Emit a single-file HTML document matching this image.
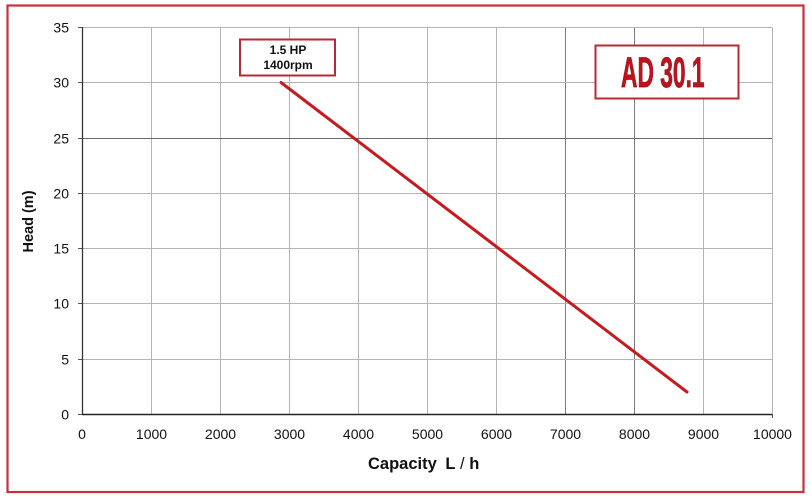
<!DOCTYPE html>
<html><head><meta charset="utf-8"><style>
html,body{margin:0;padding:0;background:#fff;}
svg{display:block;}
text{font-family:"Liberation Sans",Arial,sans-serif;}
</style></head><body>
<svg width="811" height="500" viewBox="0 0 811 500" xmlns="http://www.w3.org/2000/svg">
<rect x="0" y="0" width="811" height="500" fill="#fff"/>
<!-- outer frame -->
<rect x="7.5" y="5.5" width="796" height="486.5" fill="none" stroke="#c8303a" stroke-width="2.2"/>
<!-- grid verticals -->
<g stroke="#b4b4b4" stroke-width="1">
<line x1="151.5" y1="27.5" x2="151.5" y2="414"/>
<line x1="220.5" y1="27.5" x2="220.5" y2="414"/>
<line x1="289.5" y1="27.5" x2="289.5" y2="414"/>
<line x1="358.5" y1="27.5" x2="358.5" y2="414"/>
<line x1="427.5" y1="27.5" x2="427.5" y2="414"/>
<line x1="496.5" y1="27.5" x2="496.5" y2="414"/>
<line x1="703.5" y1="27.5" x2="703.5" y2="414"/>
<line x1="772.5" y1="27.5" x2="772.5" y2="414"/>
</g>
<g stroke="#7a7a7a" stroke-width="1">
<line x1="565.5" y1="27.5" x2="565.5" y2="414"/>
<line x1="634.5" y1="27.5" x2="634.5" y2="414"/>
</g>
<!-- grid horizontals -->
<g stroke="#b4b4b4" stroke-width="1">
<line x1="82" y1="27.5" x2="772" y2="27.5"/>
<line x1="82" y1="82.5" x2="772" y2="82.5"/>
<line x1="82" y1="193.5" x2="772" y2="193.5"/>
<line x1="82" y1="248.5" x2="772" y2="248.5"/>
<line x1="82" y1="303.5" x2="772" y2="303.5"/>
<line x1="82" y1="359.5" x2="772" y2="359.5"/>
</g>
<line x1="82" y1="138.5" x2="772" y2="138.5" stroke="#6a6a6a" stroke-width="1"/>
<!-- ticks -->
<g stroke="#555" stroke-width="1">
<line x1="78" y1="27.5" x2="82" y2="27.5"/>
<line x1="78" y1="82.5" x2="82" y2="82.5"/>
<line x1="78" y1="138.5" x2="82" y2="138.5"/>
<line x1="78" y1="193.5" x2="82" y2="193.5"/>
<line x1="78" y1="248.5" x2="82" y2="248.5"/>
<line x1="78" y1="303.5" x2="82" y2="303.5"/>
<line x1="78" y1="359.5" x2="82" y2="359.5"/>
<line x1="78" y1="414.5" x2="82" y2="414.5"/>
<line x1="772.5" y1="414" x2="772.5" y2="418"/>
</g>
<!-- axes -->
<line x1="82.5" y1="27" x2="82.5" y2="415" stroke="#333" stroke-width="1.3"/>
<line x1="82" y1="414.5" x2="772" y2="414.5" stroke="#222" stroke-width="1.5"/>
<!-- y labels -->
<g font-size="14" fill="#111" text-anchor="end">
<text x="69" y="32.5">35</text>
<text x="69" y="87.5">30</text>
<text x="69" y="143.5">25</text>
<text x="69" y="198.5">20</text>
<text x="69" y="253.5">15</text>
<text x="69" y="308.5">10</text>
<text x="69" y="364.5">5</text>
<text x="69" y="419.5">0</text>
</g>
<!-- x labels -->
<g font-size="14" fill="#111" text-anchor="middle">
<text x="82" y="439">0</text>
<text x="151.5" y="439">1000</text>
<text x="220.5" y="439">2000</text>
<text x="289.5" y="439">3000</text>
<text x="358.5" y="439">4000</text>
<text x="427.5" y="439">5000</text>
<text x="496.5" y="439">6000</text>
<text x="565.5" y="439">7000</text>
<text x="634.5" y="439">8000</text>
<text x="703.5" y="439">9000</text>
<text x="772.5" y="439">10000</text>
</g>
<!-- axis titles -->
<text x="368" y="469" font-size="16.5" font-weight="bold" fill="#111">Capacity <tspan dx="4">L</tspan><tspan font-weight="normal"> / </tspan>h</text>
<text transform="translate(33,221.5) rotate(-90)" font-size="14.5" font-weight="bold" fill="#111" text-anchor="middle">Head (m)</text>
<!-- curve -->
<line x1="281" y1="82.5" x2="687" y2="392" stroke="#c8191f" stroke-width="3" stroke-linecap="round"/>
<!-- HP label -->
<rect x="240" y="39.5" width="95" height="36" fill="#fff" stroke="#b52a34" stroke-width="2"/>
<text x="288" y="54" font-size="12" font-weight="bold" fill="#111" text-anchor="middle">1.5 HP</text>
<text x="288" y="69" font-size="12" font-weight="bold" fill="#111" text-anchor="middle">1400rpm</text>
<!-- model box -->
<rect x="595.5" y="45.5" width="143" height="53" fill="#fff" stroke="#b52a34" stroke-width="2"/>
<text transform="translate(621,87) scale(0.53,1)" font-size="43" font-weight="bold" fill="#c1121c" stroke="#8e1a22" stroke-width="0.8">AD 30.1</text>
</svg>
</body></html>
